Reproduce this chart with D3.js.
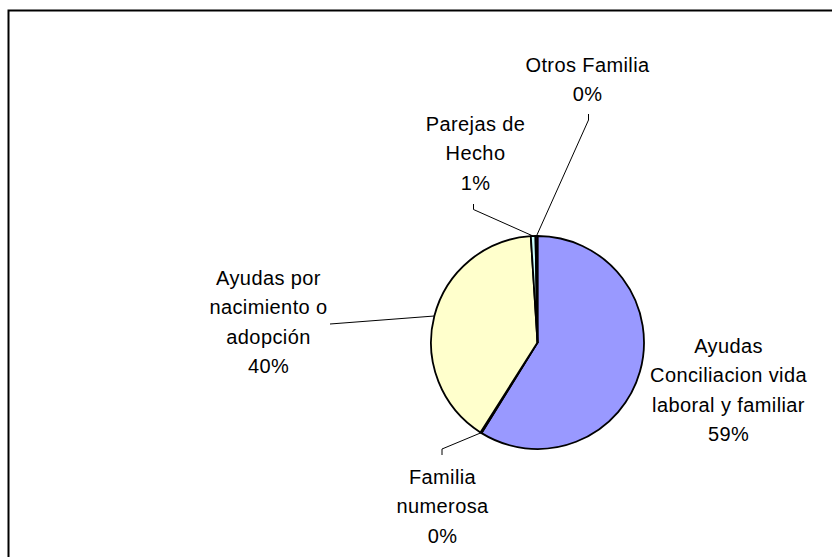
<!DOCTYPE html>
<html>
<head>
<meta charset="utf-8">
<script src="https://cdn.jsdelivr.net/npm/d3@7"></script>
<style>
  html, body { margin: 0; padding: 0; background: #fff; }
  svg { display: block; }
  text { font-family: "Liberation Sans", Arial, sans-serif; fill: #000; }
</style>
</head>
<body>
<svg id="chart" width="832" height="557"></svg>
<script>
// Data
const categories = [
  "Ayudas Conciliacion vida laboral y familiar",
  "Familia numerosa",
  "Ayudas por nacimiento o adopción",
  "Parejas de Hecho",
  "Otros Familia"
];
const values = [58.8, 0.2, 40.0, 0.7, 0.3];
const labelLines = [
  ["Ayudas", "Conciliacion vida", "laboral y familiar"],
  ["Familia", "numerosa"],
  ["Ayudas por", "nacimiento o", "adopción"],
  ["Parejas de", "Hecho"],
  ["Otros Familia"]
];
const colors = ["#9999FF", "#993366", "#FFFFCC", "#CCFFFF", "#660066"];

// Layout (label placement relative to pie center)
const cx = 537.5, cy = 342.5, r = 106.5;
const lineH = 29.5;
const labelPos = [
  { dx: 191, dy: 10, leader: null },
  { dx: -95, dy: 141, leader: [[-95.5, 106.5], [-95.5, 112.5]] },
  { dx: -269, dy: -58, leader: [[-207.5, -18.5]] },
  { dx: -62, dy: -212, leader: [[-64, -133], [-64, -138.5]] },
  { dx: 50, dy: -271, leader: [[51, -222.5], [51, -228.5]] }
];

const svg = d3.select("#chart");

// frame
svg.append("rect")
  .attr("x", 8.5).attr("y", 10.5)
  .attr("width", 900).attr("height", 700)
  .attr("fill", "none").attr("stroke", "#000").attr("stroke-width", 2);

const total = d3.sum(values);
const pie = d3.pie().sort(null).value(d => d)(values);
const arc = d3.arc().innerRadius(0).outerRadius(r);

const g = svg.append("g").attr("transform", `translate(${cx},${cy})`);

g.selectAll("path.slice")
  .data(pie)
  .join("path")
  .attr("class", "slice")
  .attr("d", arc)
  .attr("fill", (d, i) => colors[i])
  .attr("stroke", "#000")
  .attr("stroke-width", 1.8)
  .attr("stroke-linejoin", "round");

// leader lines
pie.forEach((d, i) => {
  const lp = labelPos[i];
  if (!lp.leader) return;
  const a = (d.startAngle + d.endAngle) / 2;
  const p0 = [Math.sin(a) * r, -Math.cos(a) * r];
  const pts = [p0].concat(lp.leader);
  g.append("path")
    .attr("d", d3.line()(pts))
    .attr("fill", "none")
    .attr("stroke", "#000")
    .attr("stroke-width", 1);
});

// labels
const pct = v => Math.round(v / total * 100) + "%";
pie.forEach((d, i) => {
  const lp = labelPos[i];
  const lines = labelLines[i].concat([pct(values[i])]);
  const t = g.append("text")
    .attr("text-anchor", "middle")
    .attr("font-size", 20)
    .attr("letter-spacing", 0.4);
  lines.forEach((s, k) => {
    t.append("tspan")
      .attr("x", lp.dx)
      .attr("y", lp.dy + k * lineH)
      .text(s);
  });
});
</script>
</body>
</html>
